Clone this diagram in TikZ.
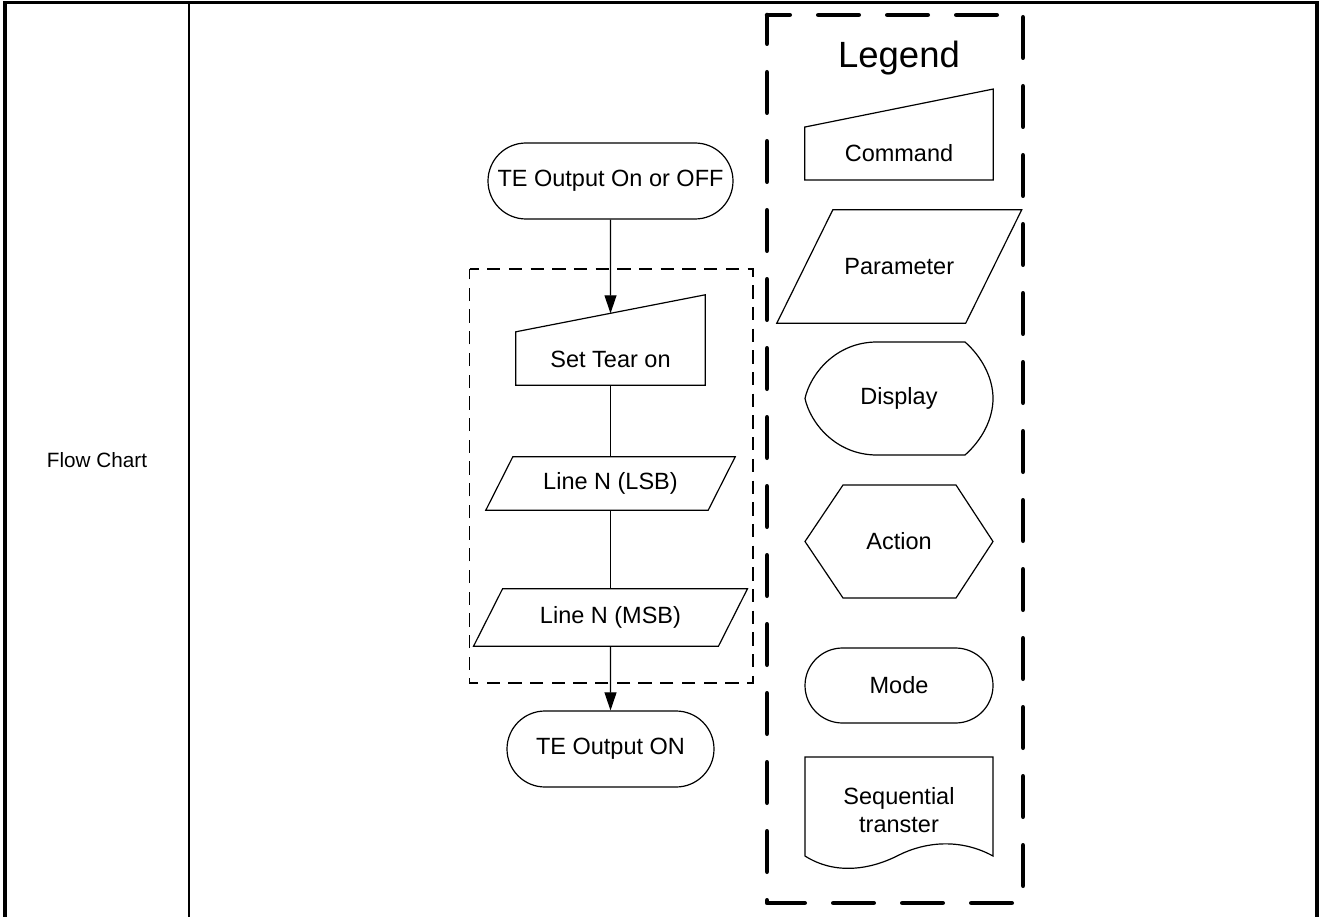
\documentclass[tikz,border=0pt]{standalone}
\usepackage{fontspec}
\setmainfont{Liberation Sans}
\usetikzlibrary{shapes.misc, arrows.meta}
\newcommand{\boxfont}{\fontsize{23.5}{28}\selectfont}
\newcommand{\headfont}{\fontsize{36.5}{42}\selectfont}
\newcommand{\sidefont}{\fontsize{20.7}{25}\selectfont}

\tikzset{
  thinline/.style={line width=1.2pt},
  termbox/.style={thinline, draw, rounded rectangle, minimum height=76pt, inner sep=0pt, font=\boxfont},
  parambox/.style={inner sep=0pt, font=\boxfont},
  cmdbox/.style={inner sep=0pt, text height=53.5pt, text depth=18pt, font=\boxfont},
  plainbox/.style={inner sep=0pt, align=center, font=\boxfont},
  flowline/.style={line width=1.1pt},
  flowarrow/.style={flowline, -{Triangle[length=18pt,width=12pt]}},
  groupframe/.style={line width=1.8pt, dash pattern=on 13.3pt off 8.4pt, dash phase=4.1pt},
  legendframe/.style={line width=4.5pt, line cap=round, line join=round,
    dash pattern=on 40.5pt off 28.5pt, dash phase=17.75pt},
}

\begin{document}
\begin{tikzpicture}[x=1pt, y=-1pt]
  \useasboundingbox (0,0) rectangle (1321,917);

  % table
  \draw[line width=3pt] (3,3) -- (1319,3);
  \draw[line width=3.5pt] (5,3) -- (5,917);
  \draw[line width=2.3pt] (189,3) -- (189,917);
  \draw[line width=4pt] (1317,3) -- (1317,917);
  \node[plainbox, font=\sidefont] (side) at (97,460.5) {Flow Chart};

  % flow chart
  \node[termbox, minimum width=245pt] (start) at (610.5,181) {TE Output On or OFF};
  \node[cmdbox, minimum width=189pt] (tear) at (610.5,349.25) {Set Tear on};
  \draw[thinline] (tear.south west) -- (tear.south east) -- ([yshift=18.5pt]tear.north east)
    -- ([yshift=-18.5pt]tear.north west) -- cycle;
  \node[parambox, minimum width=222pt, minimum height=53pt] (lsb) at (610.5,483.5) {Line N (LSB)};
  \draw[thinline] ([xshift=13.5pt]lsb.north west) -- ([xshift=13.5pt]lsb.north east)
    -- ([xshift=-13.5pt]lsb.south east) -- ([xshift=-13.5pt]lsb.south west) -- cycle;
  \node[parambox, minimum width=244.5pt, minimum height=57pt] (msb) at (610.5,617.5) {Line N (MSB)};
  \draw[thinline] ([xshift=14.5pt]msb.north west) -- ([xshift=14.5pt]msb.north east)
    -- ([xshift=-14.5pt]msb.south east) -- ([xshift=-14.5pt]msb.south west) -- cycle;
  \node[termbox, minimum width=207pt] (done) at (610.5,749) {TE Output ON};

  \draw[flowarrow] (start) -- (tear);
  \draw[flowline] (tear) -- (lsb);
  \draw[flowline] (lsb) -- (msb);
  \draw[flowarrow] (msb) -- (done);

  \draw[groupframe] (469.5,269) -- (753,269) -- (753,683) -- (469.5,683) -- cycle;

  % legend
  \draw[legendframe] (767,15) -- (1023,15) -- (1023,903) -- (767,903) -- cycle;
  \node[plainbox, font=\headfont] (legend) at (899,58.5) {Legend};

  \node[cmdbox, minimum width=188pt] (lcmd) at (899,144) {Command};
  \draw[thinline] (lcmd.south west) -- (lcmd.south east) -- ([yshift=19pt]lcmd.north east)
    -- ([yshift=-19pt]lcmd.north west) -- cycle;

  \node[parambox, minimum width=188.5pt, minimum height=113pt] (lpar) at (899.25,266.5) {Parameter};
  \draw[thinline] ([xshift=28pt]lpar.north west) -- ([xshift=28pt]lpar.north east)
    -- ([xshift=-28pt]lpar.south east) -- ([xshift=-28pt]lpar.south west) -- cycle;

  \node[plainbox] (ldisp) at (899,398.5) {Display};
  \draw[thinline] (877,342) -- (965,342) .. controls (982,357) and (993,378) .. (993,398.5)
    .. controls (993,419) and (982,440) .. (965,455) -- (877,455)
    .. controls (835,455) and (810,422) .. (805,398.5)
    .. controls (810,375) and (835,342) .. (877,342) -- cycle;

  \node[plainbox] (lact) at (899,541.5) {Action};
  \draw[thinline] (805,541.5) -- (843,485) -- (956,485) -- (993,541.5) -- (956,598) -- (843,598) -- cycle;

  \node[termbox, minimum width=188pt, minimum height=75pt] (lmode) at (899,685.5) {Mode};

  \node[plainbox] (lseq) at (899,810.4) {Sequential\\transter};
  \draw[thinline] (805,757) -- (993,757) -- (993,856)
    .. controls (960,838) and (925,842) .. (899,855)
    .. controls (870,870) and (835,875) .. (805,856) -- cycle;
\end{tikzpicture}
\end{document}
